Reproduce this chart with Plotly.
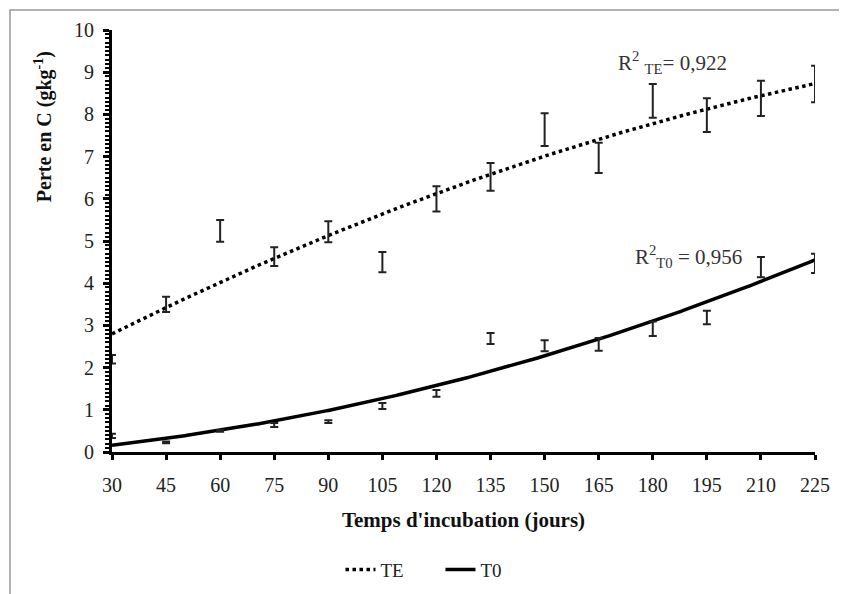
import numpy as np
import plotly.graph_objects as go

days = [30, 45, 60, 75, 90, 105, 120, 135, 150, 165, 180, 195, 210, 225]
te_mean = [2.20, 3.50, 5.24, 4.63, 5.22, 4.50, 6.00, 6.52, 7.64, 6.97, 8.32, 7.98, 8.38, 8.72]
te_err = [0.10, 0.18, 0.26, 0.22, 0.25, 0.24, 0.30, 0.33, 0.39, 0.36, 0.40, 0.40, 0.42, 0.43]
t0_mean = [0.38, 0.23, 0.50, 0.64, 0.72, 1.09, 1.39, 2.69, 2.52, 2.55, 2.92, 3.19, 4.38, 4.47]
t0_err = [0.05, 0.02, 0.02, 0.05, 0.03, 0.07, 0.08, 0.13, 0.13, 0.15, 0.17, 0.16, 0.24, 0.23]
tick_vals = days
y_ticks = list(range(0, 11))

serif = "Liberation Serif, Times New Roman, serif"

x = np.array(days, dtype=float)
xs = np.linspace(30, 225, 300)
te_fit = np.polyval(np.polyfit(x, te_mean, 2), xs)
t0_fit = np.polyval(np.polyfit(x, t0_mean, 2), xs)

fig = go.Figure()
fig.add_trace(go.Scatter(x=xs, y=te_fit, mode="lines", name="TE",
                         line=dict(color="black", width=3.5, dash="dot")))
fig.add_trace(go.Scatter(x=xs, y=t0_fit, mode="lines", name="T0",
                         line=dict(color="black", width=3.5)))
for m, e in [(te_mean, te_err), (t0_mean, t0_err)]:
    fig.add_trace(go.Scatter(x=days, y=m, mode="markers", showlegend=False,
                             marker=dict(size=1, color="rgba(0,0,0,0)"),
                             error_y=dict(type="data", array=e, visible=True,
                                          color="#222", thickness=2, width=4),
                             cliponaxis=False))

fig.update_layout(
    width=839, height=586,
    margin=dict(l=104, r=32, t=22, b=142, autoexpand=False),
    paper_bgcolor="white", plot_bgcolor="white",
    font=dict(family=serif, size=20, color="#222"),
    showlegend=True,
    legend=dict(orientation="h", x=0.325, xanchor="left", y=-0.279, yanchor="middle",
                font=dict(family=serif, size=19, color="#222"),
                entrywidth=55, entrywidthmode="pixels", tracegroupgap=0),
    xaxis=dict(range=[30, 225], tickvals=tick_vals, ticks="outside", ticklen=5,
               tickwidth=3, tickcolor="black", showline=True, linecolor="black",
               linewidth=3, showgrid=False, zeroline=False, ticklabelstandoff=8,
               automargin=False,
               title=dict(text="<b>Temps d'incubation (jours)</b>", standoff=18,
                          font=dict(family=serif, size=21, color="#111")),
               tickfont=dict(family=serif, size=20, color="#222")),
    yaxis=dict(range=[0, 10], tickvals=y_ticks, ticks="outside", ticklen=6,
               tickwidth=3, tickcolor="black", showline=True, linecolor="black",
               linewidth=3, showgrid=False, zeroline=False, ticklabelstandoff=5,
               automargin=False,
               minor=dict(dtick=0.1, ticks="outside", ticklen=4, tickwidth=2,
                          tickcolor="black", showgrid=False),
               tickfont=dict(family=serif, size=20, color="#222")),
    shapes=[dict(type="rect", xref="paper", yref="paper", x0=-0.1451, y0=-0.40,
                 x1=1.10, y1=1.0474, line=dict(color="#999", width=1.5),
                 layer="below")],
    annotations=[
        dict(x=-0.098, y=0.770, xref="paper", yref="paper", showarrow=False,
             textangle=-90, xanchor="center", yanchor="middle",
             text="<b>Perte en C (gkg<sup>-1</sup>)</b>",
             font=dict(family=serif, size=20, color="#111")),
        dict(x=185.6, y=9.24, xref="x", yref="y", showarrow=False, xanchor="center",
             text="R<sup>2</sup> <sub>TE</sub>= 0,922",
             font=dict(family=serif, size=21, color="#333")),
        dict(x=190, y=4.64, xref="x", yref="y", showarrow=False, xanchor="center",
             text="R<sup>2</sup><sub>T0</sub> = 0,956",
             font=dict(family=serif, size=21, color="#333")),
    ],
)
fig.write_html("out.html")
